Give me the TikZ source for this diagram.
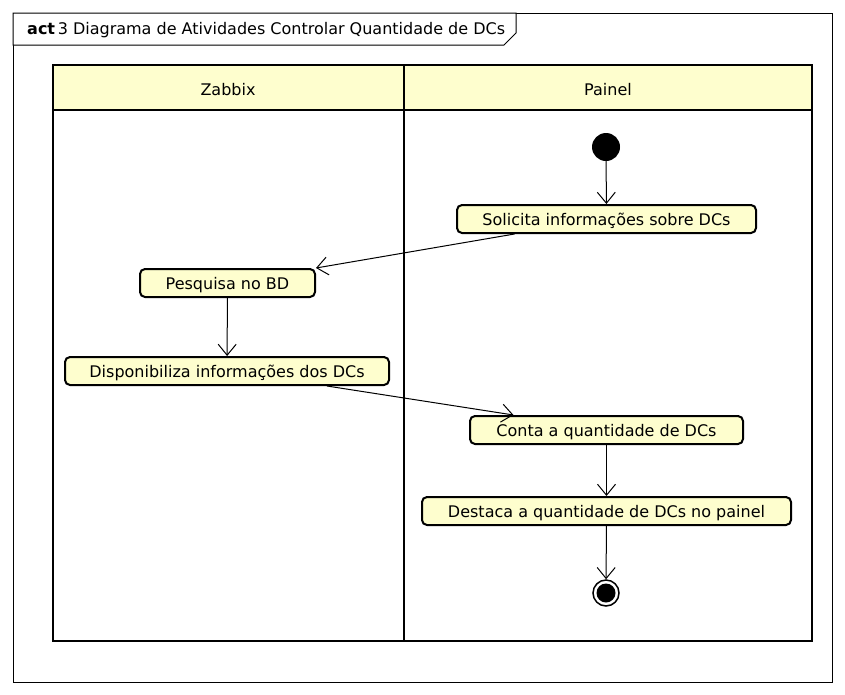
\documentclass[tikz,border=0pt]{standalone}
\usepackage{fontspec}
\setmainfont{DejaVu Sans}
\usetikzlibrary{arrows.meta}
\definecolor{umlfill}{HTML}{FEFECE}
\begin{document}
\begin{tikzpicture}[x=1pt,y=-1pt,
  txt/.style={font=\fontsize{16}{19}\selectfont},
  act/.style={txt,draw,line width=2pt,fill=umlfill,rounded corners=5pt,minimum height=28pt,inner sep=0pt,text height=14pt,text depth=1pt},
  flow/.style={line width=1pt,-{Straight Barb[length=11pt,width=18pt,line width=1pt]}},
  lane/.style={draw,line width=2pt}]
\useasboundingbox (0,0) rectangle (845,694);
% frame
\draw[line width=1pt] (13,13) rectangle (832,682);
\draw[line width=1pt,fill=white] (13,13) -- (516,13) -- (516,33) -- (504,45) -- (13,45) -- cycle;
\node[txt,anchor=west,inner sep=0pt] (title) at (27,30) {\textbf{act}\,3 Diagrama de Atividades Controlar Quantidade de DCs};
% swimlanes
\draw[lane,fill=umlfill] (53,65) rectangle (812,110);
\draw[lane] (53,65) rectangle (812,641);
\draw[lane] (53,110) -- (812,110);
\draw[lane] (404,65) -- (404,641);
\node[txt] (zabbix) at (228,90) {Zabbix};
\node[txt] (painel) at (608,90) {Painel};
% nodes
\node[circle,fill=black,minimum size=28pt,inner sep=0pt] (start) at (606,147) {};
\node[act,minimum width=299pt] (sol) at (606.5,219) {Solicita informações sobre DCs};
\node[act,minimum width=175pt] (pes) at (227.5,283) {Pesquisa no BD};
\node[act,minimum width=324pt] (dis) at (227,371) {Disponibiliza informações dos DCs};
\node[act,minimum width=273pt] (con) at (606.5,430) {Conta a quantidade de DCs};
\node[act,minimum width=369pt] (des) at (606.5,511) {Destaca a quantidade de DCs no painel};
\node[circle,draw,line width=1.5pt,fill=white,minimum size=26pt,inner sep=0pt] (end) at (606,593) {};
\node[circle,fill=black,minimum size=19pt,inner sep=0pt] (endin) at (606,593) {};
% flows
\draw[flow] (start) -- (sol);
\draw[flow] ([xshift=-92pt]sol.south) -- (pes.north east);
\draw[flow] (pes) -- (dis);
\draw[flow] ([xshift=100pt]dis.south) -- ([xshift=-93pt]con.north);
\draw[flow] (con) -- (des);
\draw[flow] (des) -- (end);
\end{tikzpicture}
\end{document}
